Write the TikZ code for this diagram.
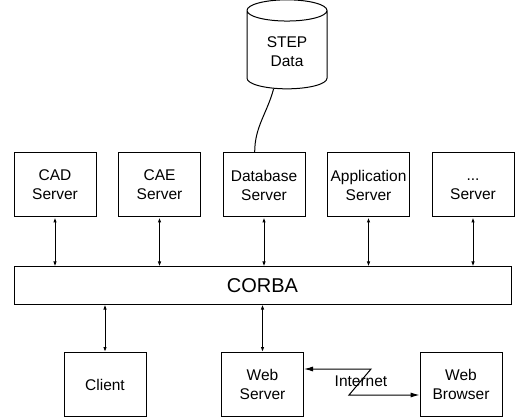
\documentclass[tikz,border=0pt]{standalone}
\usepackage{fontspec}
\setmainfont{Liberation Sans}
\usetikzlibrary{arrows.meta,positioning,shapes.geometric,calc}

\begin{document}
\begin{tikzpicture}[
  x=1pt, y=-1pt,
  node distance=21.5pt,
  every node/.style={font=\fontsize{15.5}{19}\selectfont},
  box/.style={draw, line width=1pt, align=center, minimum width=82pt, minimum height=64pt, inner sep=2pt},
  link/.style={<->, line width=1pt, >={Latex[length=5pt,width=3.5pt]}},
  web/.style={<->, line width=1pt, >={Latex[length=9pt,width=5pt]}}
]
  \useasboundingbox (0,0) rectangle (516,419);

  % data store
  \node[draw, line width=1pt, cylinder, shape border rotate=90, shape aspect=0.45,
        minimum height=89pt, minimum width=80pt, align=center] (data) at (287,52) {STEP\\Data};

  % server row
  \node[box] (cad) at (55,185) {CAD\\Server};
  \node[box, right=of cad] (cae) {CAE\\Server};
  \node[box, right=of cae] (db) {Database\\Server};
  \node[box, right=of db] (app) {Application\\Server};
  \node[box, right=of app] (etc) {\vphantom{S}...\\Server};

  % bus
  \node[draw, line width=1pt, minimum width=497pt, minimum height=37pt,
        font=\fontsize{20}{24}\selectfont] (corba) at (262.5,285.5) {CORBA};

  % clients
  \node[box] (client) at (105,384.5) {Client};
  \node[box] (ws) at (262.5,384.5) {Web\\Server};
  \node[box] (wb) at (461,384.5) {Web\\Browser};

  \draw[line width=1pt] (data.250) to[out=-105, in=90] (db.106);

  \foreach \s in {cad,cae,db,app,etc}
    \draw[link] (\s.south) -- (\s.south |- corba.north);

  \draw[link] (corba.south -| client.north) -- (client.north);
  \draw[link] (corba.south -| ws.north) -- (ws.north);

  % internet link
  \coordinate (zz1) at (371,369);
  \coordinate (zz2) at (349,395);
  \draw[web] (ws.east |- zz1) -- (zz1) -- (zz2) -- (zz2 -| wb.west);
  \node[inner sep=1pt] (inet) at (361,381) {Internet};
\end{tikzpicture}
\end{document}
